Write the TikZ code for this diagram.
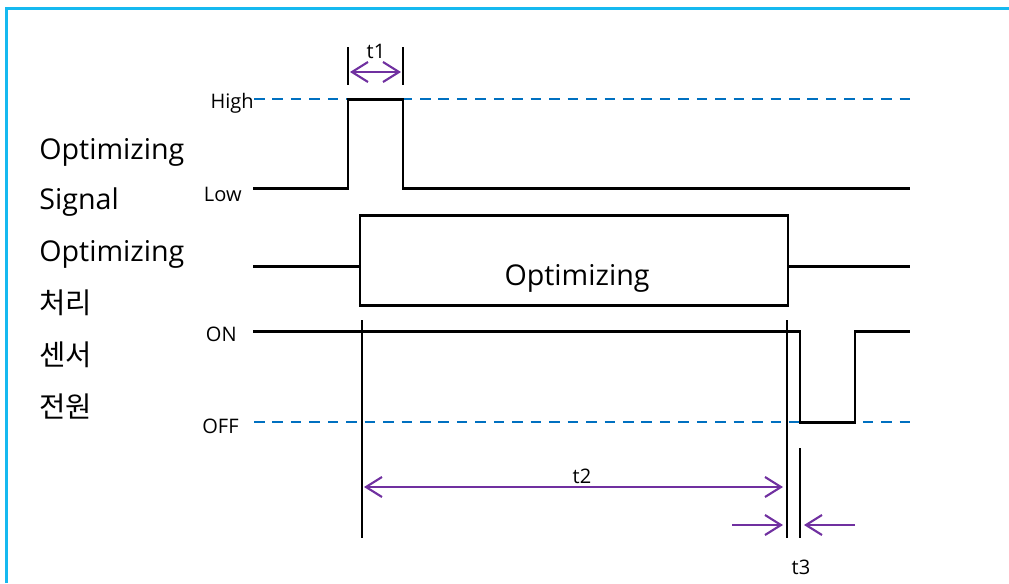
\documentclass[tikz,border=0pt]{standalone}
\usepackage{fontspec}
\setmainfont{Open Sans}
\newfontfamily\krfont{Noto Sans CJK KR}
\usetikzlibrary{arrows.meta,positioning}
\definecolor{frameblue}{HTML}{15B9F0}
\definecolor{levelblue}{HTML}{0070C0}
\definecolor{spanpurple}{HTML}{7030A0}
\tikzset{
  sig/.style={line width=1.7pt,line join=miter},
  level/.style={levelblue,line width=1.4pt,dash pattern=on 6pt off 4.5pt},
  guide/.style={line width=0.8pt},
  span/.style={spanpurple,line width=1.2pt},
  barb/.tip={Straight Barb[length=0.32cm,width=0.4cm,line width=1.2pt]},
  biglbl/.style={font=\fontsize{16.3}{19}\selectfont,inner sep=0pt},
  smlbl/.style={font=\fontsize{11.4}{13}\selectfont,inner sep=0pt}
}
\begin{document}
\begin{tikzpicture}[x=0.02cm,y=-0.02cm]
\useasboundingbox (0,0) rectangle (1009,583);
% frame
\draw[frameblue,line width=1.7pt] (6.5,583) -- (6.5,8.5) -- (1009,8.5);

% left labels
\node[biglbl,anchor=west] (sig1) at (39,152) {Optimizing};
\node[biglbl,anchor=west] (sig2) at (39,202) {Signal};
\node[biglbl,anchor=west] (proc1) at (39,254) {Optimizing};
\node[biglbl,anchor=west] (proc2) at (39,303) {\krfont 처리};
\node[biglbl,anchor=west] (pwr1) at (39,355) {\krfont 센서};
\node[biglbl,anchor=west] (pwr2) at (39,406) {\krfont 전원};

% level labels
\node[smlbl,anchor=east] (high) at (254,103) {High};
\node[smlbl,anchor=east] (low) at (242,194) {Low};
\node[smlbl,anchor=east] (on) at (237,334) {ON};
\node[smlbl,anchor=east] (off) at (239,426) {OFF};

% reference levels
\draw[level] (high.east) ++(0,-4) -- (910,99);
\draw[level] (off.east) ++(15,-4) -- (910,422);

% optimizing signal
\draw[sig] (253,188) -- (348,188) -- (348,99) -- (403,99) -- (403,188) -- (910,188);

% optimizing process
\draw[sig] (253,266) -- (360,266);
\draw[sig] (360,215) rectangle (788,305);
\draw[sig] (788,266) -- (910,266);
\node[biglbl] (optbox) at (577,278) {Optimizing};

% sensor power
\draw[sig] (253,331) -- (800,331) -- (800,422) -- (855,422) -- (855,331) -- (910,331);

% t1
\coordinate (t1l) at (348,47);
\coordinate (t1r) at (403,47);
\draw[line width=1.1pt] (t1l) -- ++(0,38);
\draw[line width=1.1pt] (t1r) -- ++(0,38);
\draw[span,barb-barb] ([shift={(2,25)}]t1l) -- ([shift={(-2,25)}]t1r);
\node[smlbl] (t1) at (376,51) {t1};

% t2, t3
\coordinate (g1) at (362,320);
\coordinate (g2) at (787,320);
\coordinate (g3) at (800,448);
\draw[guide] (g1) -- (362,538);
\draw[guide] (g2) -- (787,538);
\draw[line width=1.2pt] (g3) -- (800,538);
\draw[span,barb-barb] (364,487) -- (783,487);
\node[smlbl] (t2) at (582,476) {t2};
\draw[span,-barb] (732,525) -- (783,525);
\draw[span,-barb] (855,525) -- (804,525);
\node[smlbl] (t3) at (801,567) {t3};
\end{tikzpicture}
\end{document}
